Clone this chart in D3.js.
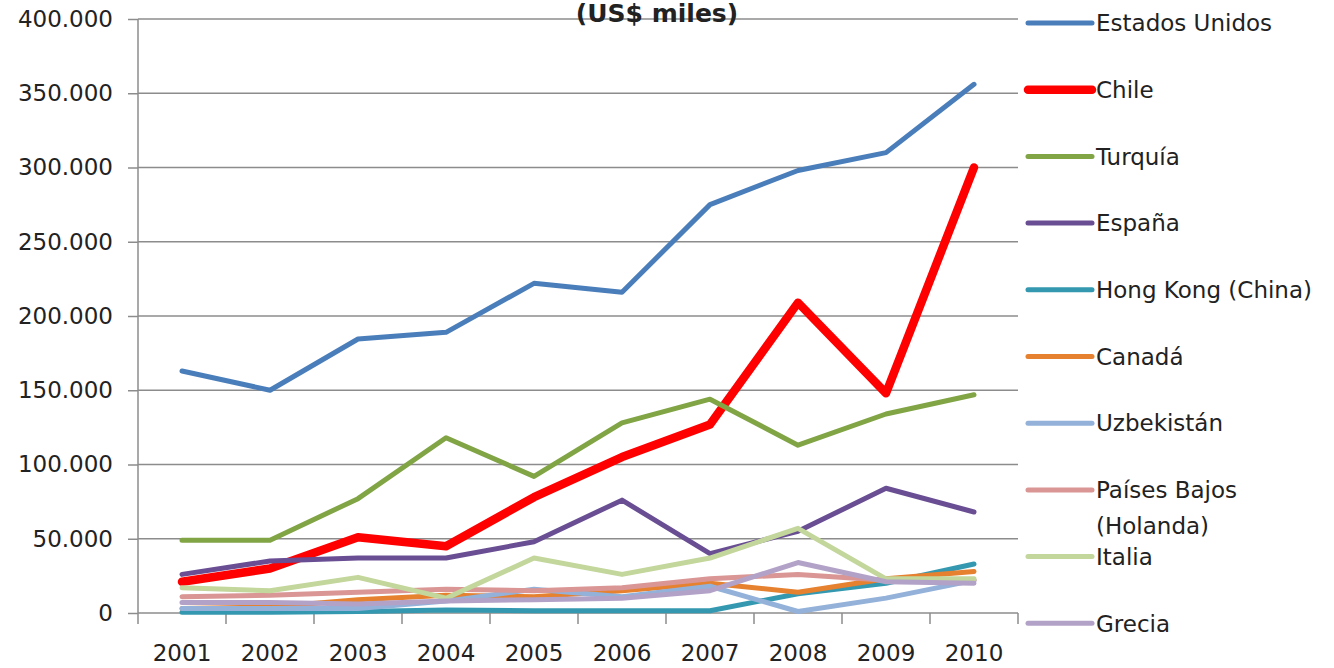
<!DOCTYPE html>
<html>
<head>
<meta charset="utf-8">
<script src="https://cdn.jsdelivr.net/npm/d3@7"></script>
<style>
  body { margin: 0; background: #fff; }
  text { font-family: "DejaVu Sans", sans-serif; fill: #222; }
</style>
</head>
<body>
<div id="chart"></div>
<script>
var years = ["2001","2002","2003","2004","2005","2006","2007","2008","2009","2010"];
var yTicks = [0, 50000, 100000, 150000, 200000, 250000, 300000, 350000, 400000];

var estadosUnidos = [163000, 150000, 184500, 189000, 222000, 216000, 275000, 298000, 310000, 356000];
var chile         = [21000, 30000, 51000, 45000, 78000, 105000, 127000, 209000, 148000, 300000];
var turquia       = [49000, 49000, 77000, 118000, 92000, 128000, 144000, 113000, 134000, 147000];
var espana        = [26000, 35000, 37000, 37000, 48000, 76000, 40000, 55000, 84000, 68000];
var hongKong      = [500, 500, 1000, 2000, 1500, 1500, 1500, 13000, 20000, 33000];
var canada        = [3000, 4000, 9000, 12000, 11000, 15000, 20000, 14000, 23000, 28000];
var uzbekistan    = [3000, 3000, 3000, 8000, 16000, 11000, 18000, 1000, 10000, 22000];
var paisesBajos   = [11000, 12000, 14000, 16000, 15000, 17000, 23000, 26000, 22000, 22000];
var italia        = [17000, 15000, 24000, 10000, 37000, 26000, 37000, 57000, 23000, 23000];
var grecia        = [7000, 7000, 6000, 8000, 9000, 10000, 15000, 34000, 21000, 20000];

var series = [
  {name: ["Estados Unidos"], values: estadosUnidos, color: "#4a7ebb", w: 5},
  {name: ["Chile"], values: chile, color: "#ff0000", w: 8.5},
  {name: ["Turquía"], values: turquia, color: "#81a445", w: 5},
  {name: ["España"], values: espana, color: "#694e93", w: 5},
  {name: ["Hong Kong (China)"], values: hongKong, color: "#3499b0", w: 5},
  {name: ["Canadá"], values: canada, color: "#e5812f", w: 5},
  {name: ["Uzbekistán"], values: uzbekistan, color: "#93b1d9", w: 5},
  {name: ["Países Bajos", "(Holanda)"], values: paisesBajos, color: "#d99694", w: 5},
  {name: ["Italia"], values: italia, color: "#c3d69b", w: 5},
  {name: ["Grecia"], values: grecia, color: "#b3a2c7", w: 5}
];

var width = 1334, height = 668;
var plotLeft = 138, plotRight = 1018, plotTop = 19, plotBottom = 613;

var svg = d3.select("#chart")
  .append("svg")
  .attr("width", width)
  .attr("height", height);

var x = d3.scaleBand().domain(years).range([plotLeft, plotRight]);
var y = d3.scaleLinear().domain([0, 400000]).range([plotBottom, plotTop]);

var fmt = function(d) { return d === 0 ? "0" : d3.format(",")(d).replace(/,/g, "."); };

// gridlines
svg.append("g")
  .selectAll("line")
  .data(yTicks.filter(function(d){ return d > 0; }))
  .enter().append("line")
    .attr("x1", plotLeft).attr("x2", plotRight)
    .attr("y1", function(d){ return y(d); })
    .attr("y2", function(d){ return y(d); })
    .attr("stroke", "#8c8c8c")
    .attr("stroke-width", 1.5);

// y axis
var yAxis = svg.append("g")
  .attr("transform", "translate(" + plotLeft + ",0)")
  .call(d3.axisLeft(y).tickValues(yTicks).tickFormat(fmt).tickSize(10).tickPadding(15));
yAxis.selectAll("line, path").attr("stroke", "#8c8c8c").attr("stroke-width", 1.5);
yAxis.select("path").attr("d", "M0," + plotBottom + "V" + plotTop);
yAxis.selectAll("text").style("font-size", "23px").attr("fill", "#222");

// x axis
var xAxis = svg.append("g")
  .attr("transform", "translate(0," + plotBottom + ")")
  .call(d3.axisBottom(x).tickSize(0).tickPadding(32));
xAxis.select("path").attr("d", "M" + plotLeft + ",0H" + plotRight).attr("stroke", "#8c8c8c").attr("stroke-width", 1.5);
xAxis.selectAll("text").style("font-size", "23px").attr("fill", "#222");
xAxis.append("g")
  .selectAll("line")
  .data(years.concat(["end"]))
  .enter().append("line")
    .attr("x1", function(d, i){ return plotLeft + i * x.step(); })
    .attr("x2", function(d, i){ return plotLeft + i * x.step(); })
    .attr("y1", 0).attr("y2", 11)
    .attr("stroke", "#8c8c8c")
    .attr("stroke-width", 1.5);

// lines
var line = d3.line()
  .x(function(d, i){ return x(years[i]) + x.bandwidth() / 2; })
  .y(function(d){ return y(d); });

svg.append("g")
  .selectAll("path")
  .data(series)
  .enter().append("path")
    .attr("d", function(d){ return line(d.values); })
    .attr("fill", "none")
    .attr("stroke", function(d){ return d.color; })
    .attr("stroke-width", function(d){ return d.w; })
    .attr("stroke-linejoin", "round")
    .attr("stroke-linecap", "round");

// title
svg.append("text")
  .attr("x", 657).attr("y", 22)
  .attr("text-anchor", "middle")
  .style("font-size", "25px")
  .style("font-weight", "bold")
  .text("(US$ miles)");

// legend
var legend = svg.append("g")
  .selectAll("g")
  .data(series)
  .enter().append("g")
    .attr("transform", function(d, i){ return "translate(1028," + (23 + i * 66.7) + ")"; });

legend.append("line")
  .attr("x1", 0).attr("x2", 64)
  .attr("stroke", function(d){ return d.color; })
  .attr("stroke-width", function(d){ return d.w; })
  .attr("stroke-linecap", "round");

legend.append("text")
  .style("font-size", "23px")
  .selectAll("tspan")
  .data(function(d){ return d.name; })
  .enter().append("tspan")
    .attr("x", 68)
    .attr("dy", function(d, i){ return i === 0 ? "0.36em" : "36px"; })
    .text(function(d){ return d; });
</script>
</body>
</html>
